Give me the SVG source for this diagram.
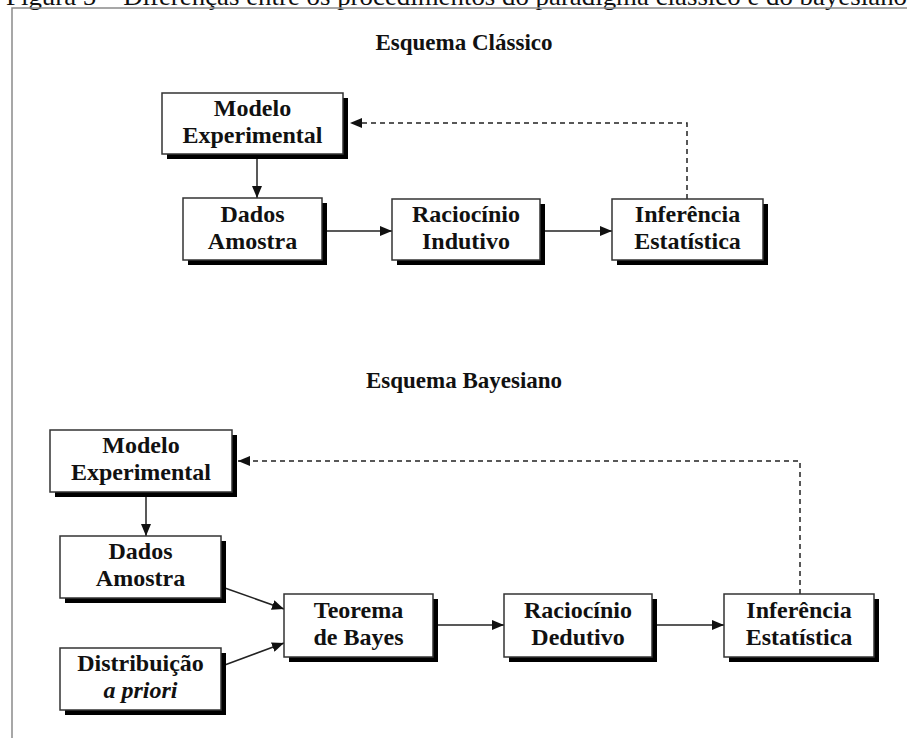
<svg xmlns="http://www.w3.org/2000/svg" width="907" height="738" viewBox="0 0 907 738">
  <style>
    .caption { font-family: "Liberation Serif", "Times New Roman", serif; font-size: 25px; fill: #111; }
    .title { font-family: "Liberation Serif", "Times New Roman", serif; font-size: 23px; font-weight: bold; fill: #111; text-anchor: middle; }
    .lbl { font-family: "Liberation Serif", "Times New Roman", serif; font-size: 24px; font-weight: bold; fill: #111; text-anchor: middle; }
    .it { font-style: italic; }
    .shadow { fill: #000; }
    .box { fill: #fff; stroke: #333; stroke-width: 1.5; }
    .edge { fill: none; stroke: #222; stroke-width: 1.5; }
    .dash { fill: none; stroke: #222; stroke-width: 1.5; stroke-dasharray: 5 4; }
    .frame { fill: none; stroke: #8a8a8a; stroke-width: 1.5; }
  </style>
  <defs>
    <marker id="arrow" viewBox="0 0 12 10" refX="12" refY="5" markerWidth="12" markerHeight="10" markerUnits="userSpaceOnUse" orient="auto">
      <path d="M0,0 L12,5 L0,10 Z" fill="#111"/>
    </marker>
  </defs>

  <rect width="907" height="738" fill="#fff"/>

  <!-- caption line, cut by the top edge of the page -->
  <text class="caption" x="6" y="5" textLength="901" lengthAdjust="spacingAndGlyphs">Figura 5 – Diferenças entre os procedimentos do paradigma clássico e do bayesiano</text>

  <!-- frame -->
  <path class="frame" d="M907,8 H12 V738"/>

  <text class="title" x="464" y="50">Esquema Clássico</text>
  <text class="title" x="464" y="388">Esquema Bayesiano</text>

  <!-- connectors -->
  <g id="connectors">
    <line class="edge" x1="257" y1="154" x2="257" y2="198" marker-end="url(#arrow)"/>
    <line class="edge" x1="327" y1="231" x2="392" y2="231" marker-end="url(#arrow)"/>
    <line class="edge" x1="545" y1="231" x2="612" y2="231" marker-end="url(#arrow)"/>
    <polyline class="dash" points="687,199 687,123 350,123" marker-end="url(#arrow)"/>

    <line class="edge" x1="146" y1="492" x2="146" y2="536" marker-end="url(#arrow)"/>
    <line class="edge" x1="222" y1="587" x2="284" y2="609" marker-end="url(#arrow)"/>
    <line class="edge" x1="222" y1="666" x2="284" y2="643" marker-end="url(#arrow)"/>
    <line class="edge" x1="438" y1="625" x2="504" y2="625" marker-end="url(#arrow)"/>
    <line class="edge" x1="657" y1="625" x2="724" y2="625" marker-end="url(#arrow)"/>
    <polyline class="dash" points="800,594 800,461 238,461" marker-end="url(#arrow)"/>
  </g>

  <!-- classical scheme -->
  <g id="c-modelo">
    <rect class="shadow" x="167" y="98" width="181" height="61"/>
    <rect class="box" x="162" y="93" width="181" height="61"/>
    <text class="lbl" x="252.5" y="116">Modelo</text>
    <text class="lbl" x="252.5" y="143">Experimental</text>
  </g>
  <g id="c-dados">
    <rect class="shadow" x="188" y="203" width="139" height="62"/>
    <rect class="box" x="183" y="198" width="139" height="62"/>
    <text class="lbl" x="252.5" y="222">Dados</text>
    <text class="lbl" x="252.5" y="249">Amostra</text>
  </g>
  <g id="c-raciocinio">
    <rect class="shadow" x="397" y="204" width="148" height="61"/>
    <rect class="box" x="392" y="199" width="148" height="61"/>
    <text class="lbl" x="466" y="222">Raciocínio</text>
    <text class="lbl" x="466" y="249">Indutivo</text>
  </g>
  <g id="c-inferencia">
    <rect class="shadow" x="617" y="204" width="151" height="61"/>
    <rect class="box" x="612" y="199" width="151" height="61"/>
    <text class="lbl" x="687.5" y="222">Inferência</text>
    <text class="lbl" x="687.5" y="249">Estatística</text>
  </g>

  <!-- Bayesian scheme -->
  <g id="b-modelo">
    <rect class="shadow" x="55" y="435" width="182" height="62"/>
    <rect class="box" x="50" y="430" width="182" height="62"/>
    <text class="lbl" x="141" y="453">Modelo</text>
    <text class="lbl" x="141" y="480">Experimental</text>
  </g>
  <g id="b-dados">
    <rect class="shadow" x="65" y="541" width="161" height="62"/>
    <rect class="box" x="60" y="536" width="161" height="62"/>
    <text class="lbl" x="140.5" y="559">Dados</text>
    <text class="lbl" x="140.5" y="586">Amostra</text>
  </g>
  <g id="b-priori">
    <rect class="shadow" x="65" y="653" width="161" height="62"/>
    <rect class="box" x="60" y="648" width="161" height="62"/>
    <text class="lbl" x="140.5" y="671">Distribuição</text>
    <text class="lbl it" x="140.5" y="698">a priori</text>
  </g>
  <g id="b-bayes">
    <rect class="shadow" x="289" y="599" width="149" height="63"/>
    <rect class="box" x="284" y="594" width="149" height="63"/>
    <text class="lbl" x="358.5" y="618">Teorema</text>
    <text class="lbl" x="358.5" y="645">de Bayes</text>
  </g>
  <g id="b-raciocinio">
    <rect class="shadow" x="509" y="599" width="148" height="63"/>
    <rect class="box" x="504" y="594" width="148" height="63"/>
    <text class="lbl" x="578" y="618">Raciocínio</text>
    <text class="lbl" x="578" y="645">Dedutivo</text>
  </g>
  <g id="b-inferencia">
    <rect class="shadow" x="729" y="599" width="150" height="63"/>
    <rect class="box" x="724" y="594" width="150" height="63"/>
    <text class="lbl" x="799" y="618">Inferência</text>
    <text class="lbl" x="799" y="645">Estatística</text>
  </g>
</svg>
